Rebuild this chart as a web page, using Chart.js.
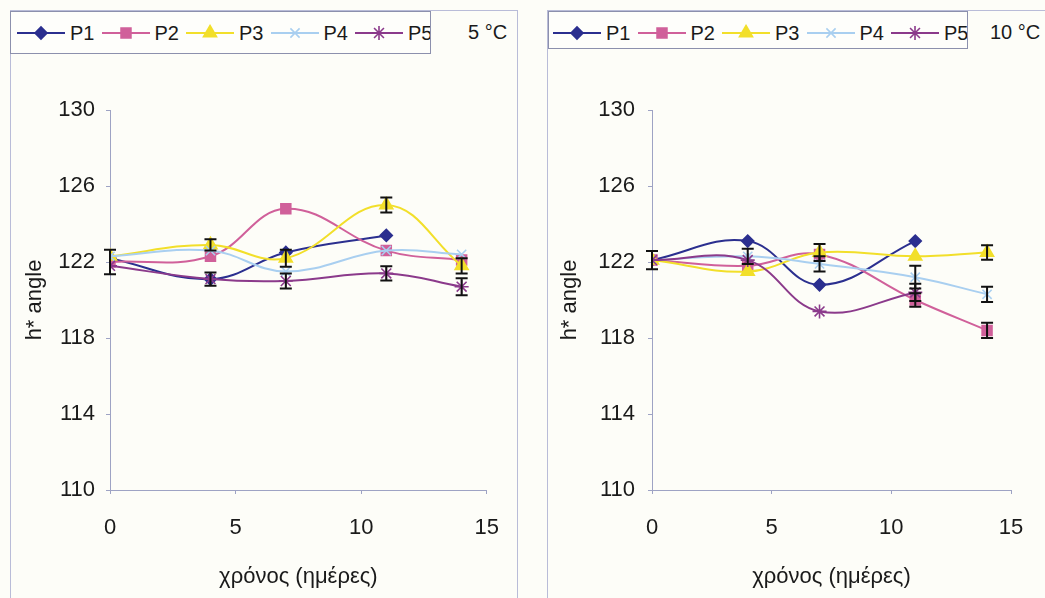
<!DOCTYPE html>
<html>
<head>
<meta charset="utf-8">
<script src="https://cdn.jsdelivr.net/npm/chart.js@4"></script>
<style>
  body { margin: 0; background: #fdfdf8; width: 1045px; height: 598px; position: relative; overflow: hidden;
         font-family: 'Liberation Sans', Arial, sans-serif; color: #1a1a1a; }
  .panel { position: absolute; border: 1px solid #b9bcd8; }
  .legend { position: absolute; border: 1px solid #8c90ad; overflow: hidden; background: #fefefb; }
  .item { position: absolute; top: 0; height: 100%; }
  .item canvas { position: absolute; top: 0; }
  .item span { position: absolute; font-size: 20px; line-height: 20px; }
  .temp { position: absolute; font-size: 20px; }
  canvas.chart { position: absolute; }
</style>
</head>
<body>
<div class="panel" style="left:10px;top:10px;width:506px;height:620px"></div>
<div class="panel" style="left:547px;top:10px;width:520px;height:620px"></div>
<div class="legend" id="leg5" style="left:10px;top:11px;width:419px;height:41px"></div>
<div class="legend" id="leg10" style="left:548px;top:11px;width:418px;height:36px"></div>
<div class="temp" style="left:468px;top:21px">5 °C</div>
<div class="temp" style="left:990px;top:21px">10 °C</div>
<canvas class="chart" id="c5" width="509" height="542" style="left:11px;top:56px"></canvas>
<canvas class="chart" id="c10" width="497" height="542" style="left:548px;top:56px"></canvas>
<script>
// time axis (days) and tick values
const days = [0, 4, 7, 11, 14];
const yTicks = [110, 114, 118, 122, 126, 130];
const seriesNames = ['P1', 'P2', 'P3', 'P4', 'P5'];

// h* angle at 5 °C
const p1At5 = [122.2, 121.1, 122.5, 123.4, null];
const p2At5 = [122.0, 122.3, 124.8, 122.6, 122.1];
const p3At5 = [122.3, 122.9, 122.2, 125.0, 121.8];
const p4At5 = [122.3, 122.6, 121.5, 122.6, 122.4];
const p5At5 = [121.8, 121.1, 121.0, 121.4, 120.7];
// error bars at 5 °C (+/-), null = no bar
const p1Err5 = [null, null, null, null, null];
const p2Err5 = [0.65, null, null, null, null];
const p3Err5 = [null, 0.3, 0.45, 0.4, 0.4];
const p4Err5 = [null, null, null, null, null];
const p5Err5 = [null, 0.35, 0.4, 0.38, 0.45];

// h* angle at 10 °C
const p1At10 = [122.1, 123.1, 120.8, 123.1, null];
const p2At10 = [122.1, 121.8, 122.4, 120.0, 118.4];
const p3At10 = [122.1, 121.5, 122.5, 122.3, 122.5];
const p4At10 = [122.1, 122.3, 121.9, 121.2, 120.3];
const p5At10 = [122.1, 122.1, 119.4, 120.4, null];
// error bars at 10 °C
const p1Err10 = [null, null, null, null, null];
const p2Err10 = [0.48, null, null, 0.35, 0.4];
const p3Err10 = [null, null, 0.45, null, 0.38];
const p4Err10 = [null, 0.4, 0.4, 0.6, 0.4];
const p5Err10 = [null, null, null, 0.45, null];

const colors = ['#2b2f8f', '#d0609a', '#f2df2a', '#a9cff0', '#8b3a8b'];
const marks = [
  {pointStyle: 'rectRot', radius: 6},
  {pointStyle: 'rect', radius: 7},
  {pointStyle: 'triangle', radius: 7.5},
  {pointStyle: 'crossRot', radius: 6.5},
  {pointStyle: 'star', radius: 7}
];

Chart.defaults.font.family = "'Liberation Sans', Arial, sans-serif";
Chart.defaults.color = '#1a1a1a';

const errorBars = {
  id: 'errorBars',
  afterDatasetsDraw(chart) {
    const ctx = chart.ctx;
    const x = chart.scales.x, y = chart.scales.y;
    ctx.save();
    ctx.strokeStyle = '#111';
    ctx.lineWidth = 2;
    chart.data.datasets.forEach(ds => {
      ds.errors.forEach((e, i) => {
        const pt = ds.data[i];
        if (e == null || pt.y == null) return;
        const px = x.getPixelForValue(pt.x);
        const top = y.getPixelForValue(pt.y + e);
        const bot = y.getPixelForValue(pt.y - e);
        ctx.beginPath();
        ctx.moveTo(px, top); ctx.lineTo(px, bot);
        ctx.moveTo(px - 6, top); ctx.lineTo(px + 6, top);
        ctx.moveTo(px - 6, bot); ctx.lineTo(px + 6, bot);
        ctx.stroke();
      });
    });
    ctx.restore();
  }
};

function makeChart(id, series, errs, yWidth, yTitlePad, yTickPad, rightPad) {
  const datasets = series.map((vals, i) => ({
    label: seriesNames[i],
    data: days.map((d, j) => ({x: d, y: vals[j]})),
    errors: errs[i],
    borderColor: colors[i],
    backgroundColor: colors[i],
    borderWidth: 2,
    pointStyle: marks[i].pointStyle,
    pointRadius: marks[i].radius,
    pointBorderWidth: 1.6,
    tension: 0.4,
    order: 5 - i
  }));
  return new Chart(document.getElementById(id), {
    type: 'line',
    data: {datasets},
    plugins: [errorBars],
    options: {
      responsive: false,
      animation: false,
      layout: {padding: {top: 54, right: rightPad, left: 0, bottom: 0}},
      plugins: {legend: {display: false}, tooltip: {enabled: false}},
      scales: {
        x: {
          type: 'linear', min: 0, max: 15,
          afterFit: s => { s.height = 108; },
          ticks: {stepSize: 5, padding: 21, font: {size: 22}},
          grid: {drawOnChartArea: false, tickLength: 4, color: '#9ea3c4'},
          border: {color: '#9ea3c4'},
          title: {display: true, text: 'χρόνος (ημέρες)', font: {size: 22}, padding: {top: 0, bottom: 8}}
        },
        y: {
          min: 110, max: 130,
          afterFit: s => { s.width = yWidth; },
          afterBuildTicks: s => { s.ticks = yTicks.map(v => ({value: v})); },
          ticks: {padding: yTickPad, font: {size: 22}},
          grid: {drawOnChartArea: false, tickLength: 4, color: '#9ea3c4'},
          border: {color: '#9ea3c4'},
          title: {display: true, text: 'h* angle', font: {size: 22}, padding: {top: yTitlePad, bottom: 0}}
        }
      }
    }
  });
}

function makeLegend(id, startX, lineY) {
  const box = document.getElementById(id);
  seriesNames.forEach((name, i) => {
    const item = document.createElement('div');
    item.className = 'item';
    item.style.left = (startX + i * 84.5) + 'px';
    item.style.width = '90px';
    const cv = document.createElement('canvas');
    cv.width = 50; cv.height = 40;
    const ctx = cv.getContext('2d');
    ctx.strokeStyle = colors[i];
    ctx.fillStyle = colors[i];
    ctx.lineWidth = 2;
    ctx.beginPath(); ctx.moveTo(1, lineY); ctx.lineTo(49, lineY); ctx.stroke();
    ctx.lineWidth = 1.6;
    Chart.helpers.drawPoint(ctx, {pointStyle: marks[i].pointStyle, radius: marks[i].radius, rotation: 0, borderWidth: 1.6}, 25, lineY);
    item.appendChild(cv);
    const sp = document.createElement('span');
    sp.textContent = name;
    sp.style.left = '54px';
    sp.style.top = (lineY - 10) + 'px';
    item.appendChild(sp);
    box.appendChild(item);
  });
}

makeChart('c5', [p1At5, p2At5, p3At5, p4At5, p5At5], [p1Err5, p2Err5, p3Err5, p4Err5, p5Err5], 99, 11, 11, 31);
makeChart('c10', [p1At10, p2At10, p3At10, p4At10, p5At10], [p1Err10, p2Err10, p3Err10, p4Err10, p5Err10], 104, 9, 13, 497 - 463);

makeLegend('leg5', 5, 21);
makeLegend('leg10', 3, 21);
</script>
</body>
</html>
